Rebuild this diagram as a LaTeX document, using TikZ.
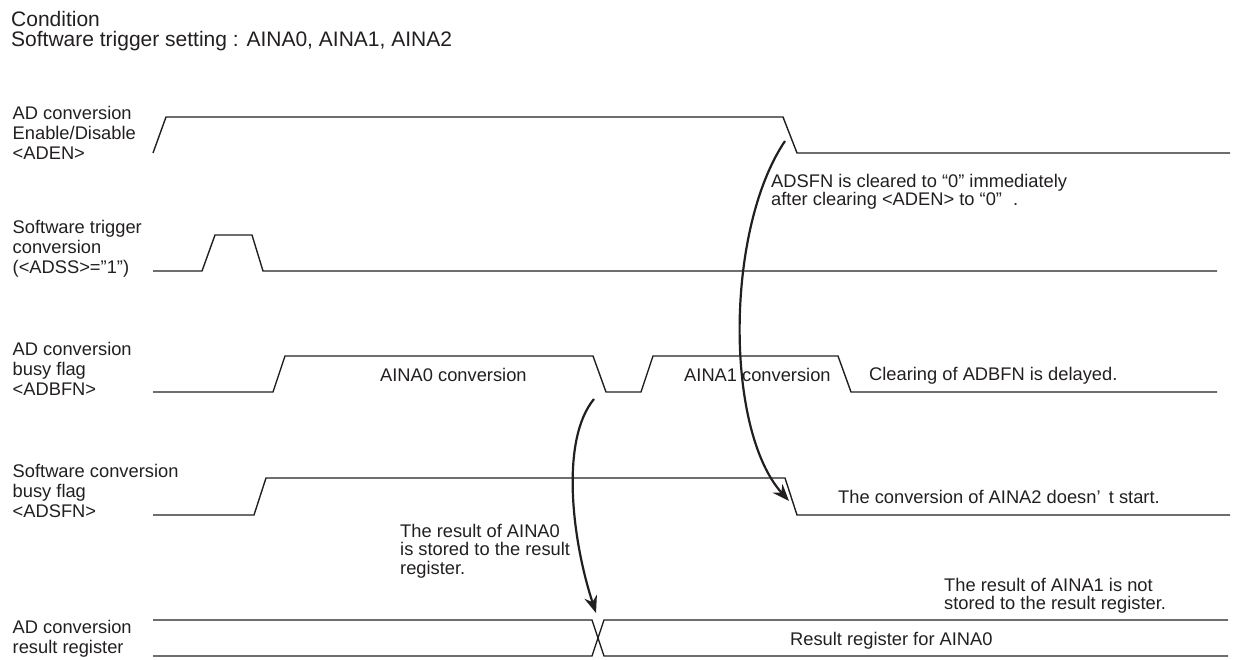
\documentclass[tikz,border=0pt]{standalone}
\usepackage{fontspec}
\setmainfont{Liberation Sans}
\usetikzlibrary{arrows.meta}
\definecolor{ink}{HTML}{231F20}
\newcommand\lnstrut{\rule{0pt}{15pt}}
\newcommand\hdstrut{\rule{0pt}{17pt}}
\begin{document}
\begin{tikzpicture}[x=1pt,y=-1pt,
  wave/.style={draw=ink, line width=1.4pt, line join=miter},
  lbl/.style={inner sep=0pt, text=ink, align=left, anchor=north west,
    font=\fontsize{18.3}{20}\selectfont},
  notes/.style={inner sep=0pt, text=ink, align=left, anchor=north west,
    font=\fontsize{18.3}{18.5}\selectfont},
  txt/.style={inner sep=0pt, text=ink, anchor=base west,
    font=\fontsize{18.3}{20}\selectfont},
  head/.style={inner sep=0pt, text=ink, align=left, anchor=north west,
    font=\fontsize{21}{20}\selectfont},
  curvearrow/.style={draw=ink, line width=2.2pt,
    -{Stealth[length=17pt,width=13pt]}}]
\useasboundingbox (0,0) rectangle (1233,660);

% header
\node[head] (hdr) at (11,9) {\hdstrut Condition\\Software trigger setting : AINA0, AINA1, AINA2};

% signal labels
\node[lbl] (lADEN) at (12.5,104) {\lnstrut AD conversion\\Enable/Disable\\<ADEN>};
\node[lbl] (lADSS) at (12.5,218) {\lnstrut Software trigger\\conversion\\(<ADSS>="1")};
\node[lbl] (lADBFN) at (12.5,340) {\lnstrut AD conversion\\busy flag\\<ADBFN>};
\node[lbl] (lADSFN) at (12.5,462) {\lnstrut Software conversion\\busy flag\\<ADSFN>};
\node[lbl] (lREG) at (12.5,618) {\lnstrut AD conversion\\result register};

% waveforms
\draw[wave] (153,153) -- (166,117) -- (783,117) -- (797,153) -- (1230,153);
\draw[wave] (153,271) -- (202,271) -- (215,235) -- (252,235) -- (263,271) -- (1217,271);
\draw[wave] (153,392) -- (273,392) -- (285,356) -- (593,356) -- (606,392)
  -- (641,392) -- (653,356) -- (838,356) -- (851,392) -- (1217,392);
\draw[wave] (153,515) -- (254,515) -- (266,478) -- (785,478) -- (797,515) -- (1230,515);
\draw[wave] (153,620) -- (592,620) -- (604,656) -- (1228,656);
\draw[wave] (153,656) -- (592,656) -- (604,620) -- (1228,620);

% texts inside waveforms
\node[txt] (t0) at (380,381) {AINA0 conversion};
\node[txt] (t1) at (684,381) {AINA1 conversion};
\node[txt] (tclr) at (869,380) {Clearing of ADBFN is delayed.};
\node[txt] (tno2) at (838,503) {The conversion of AINA2 doesn’\hspace{0.45em}t start.};
\node[txt] (treg) at (790,645) {Result register for AINA0};

% notes
\node[notes] (nsfn) at (771,172) {\lnstrut ADSFN is cleared to “0” immediately\\after clearing <ADEN> to “0”\hspace{0.6em}.};
\node[notes] (nres0) at (400,522) {\lnstrut The result of AINA0\\is stored to the result\\register.};
\node[notes] (nres1) at (944,576) {\lnstrut The result of AINA1 is not\\stored to the result register.};

% arrows
\coordinate (a1s) at (785,141);
\coordinate (a1e) at (789,501);
\draw[curvearrow] (a1s) .. controls (725,230) and (725,430) .. (a1e);
\coordinate (a2s) at (594,399);
\coordinate (a2e) at (596,613);
\draw[curvearrow] (a2s) .. controls (560,440) and (572,540) .. (a2e);
\end{tikzpicture}
\end{document}
